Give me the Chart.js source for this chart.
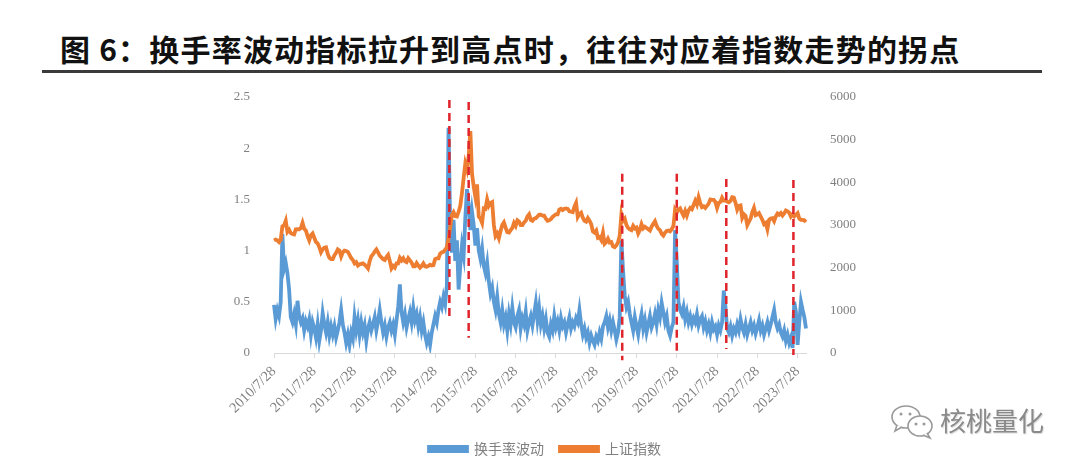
<!DOCTYPE html>
<html>
<head>
<meta charset="utf-8">
<script src="https://cdn.jsdelivr.net/npm/chart.js@4.4.0/dist/chart.umd.min.js"></script>
<style>
  body { margin: 0; background: #fff; width: 1080px; height: 468px; overflow: hidden; position: relative; font-family: "Noto Sans CJK SC", sans-serif; }
  #title { position: absolute; left: 60px; top: 32px; font-size: 30px; line-height: 32px; font-weight: bold; color: #111; white-space: nowrap; letter-spacing: 1.2px; }
  #rule { position: absolute; left: 42px; top: 70px; width: 1000px; height: 3px; background: #3a3a3a; }
  #box { position: absolute; left: 0; top: 80px; }
  #wx { position: absolute; left: 890px; top: 404px; }
  #wxtext { position: absolute; left: 940px; top: 404px; font-size: 26px; line-height: 32px; color: #8a8a8a; text-shadow: 1px 1px 1px #ddd; }
</style>
</head>
<body>
<div id="title">图 6：换手率波动指标拉升到高点时，往往对应着指数走势的拐点</div>
<div id="rule"></div>
<div id="box"><canvas id="chart" width="1080" height="388"></canvas></div>
<svg id="wx" width="46" height="36" viewBox="0 0 46 36">
  <ellipse cx="16" cy="13" rx="14" ry="11" fill="#fff" stroke="#9a9a9a" stroke-width="1.6"/>
  <path d="M7 21 L5 27 L12 23" fill="#fff" stroke="#9a9a9a" stroke-width="1.6"/>
  <circle cx="11" cy="10" r="1.5" fill="#9a9a9a"/>
  <circle cx="20" cy="10" r="1.5" fill="#9a9a9a"/>
  <ellipse cx="30" cy="22" rx="12" ry="10" fill="#fff" stroke="#9a9a9a" stroke-width="1.6"/>
  <path d="M37 29 L40 34 L33 31" fill="#fff" stroke="#9a9a9a" stroke-width="1.6"/>
  <circle cx="26" cy="20" r="1.5" fill="#9a9a9a"/>
  <circle cx="34" cy="20" r="1.5" fill="#9a9a9a"/>
</svg>
<div id="wxtext">核桃量化</div>
<script>
// 刻度标签（每 24 个半月点一个）
var yearLabels = ['2010/7/28', '2011/7/28', '2012/7/28', '2013/7/28', '2014/7/28', '2015/7/28', '2016/7/28',
  '2017/7/28', '2018/7/28', '2019/7/28', '2020/7/28', '2021/7/28', '2022/7/28', '2023/7/28'];

// 换手率波动（左轴），半月一个点
var turnover = [
  0.47, 0.33, 0.42, 0.36, 0.50, 1.16, 0.82, 0.88, 0.78, 0.62, 0.35,
  0.30, 0.38, 0.28, 0.51, 0.36, 0.30, 0.34, 0.22, 0.31, 0.26, 0.33, 0.18, 0.30, 0.24, 0.15, 0.28, 0.12, 0.22, 0.39, 0.28, 0.20, 0.30, 0.17, 0.26,
  0.18, 0.26, 0.15, 0.22, 0.30, 0.42, 0.28, 0.20, 0.10, 0.18, 0.08, 0.20, 0.14, 0.35, 0.22, 0.32, 0.18, 0.30, 0.20, 0.27, 0.12, 0.24, 0.30, 0.22,
  0.28, 0.35, 0.22, 0.31, 0.42, 0.30, 0.20, 0.27, 0.16, 0.25, 0.30, 0.22, 0.28, 0.18, 0.32, 0.45, 0.67, 0.40, 0.30, 0.38, 0.25, 0.33, 0.40, 0.30,
  0.44, 0.32, 0.38, 0.26, 0.35, 0.22, 0.30, 0.18, 0.10, 0.16, 0.08, 0.20, 0.28, 0.36, 0.30, 0.42, 0.50, 0.45, 0.55, 0.48, 0.66, 2.20, 1.25, 0.98,
  1.30, 0.90, 1.10, 0.62, 0.85, 1.05, 0.95, 1.32, 1.60, 1.45, 1.20, 1.38, 1.25, 1.05, 1.22, 1.00, 0.92, 1.02, 0.85, 0.78, 0.88, 0.70, 0.58, 0.64,
  0.50, 0.42, 0.55, 0.38, 0.30, 0.42, 0.28, 0.35, 0.22, 0.38, 0.28, 0.44, 0.30, 0.25, 0.36, 0.42, 0.24, 0.34, 0.28, 0.40, 0.22, 0.30, 0.36, 0.27,
  0.38, 0.49, 0.32, 0.44, 0.28, 0.36, 0.24, 0.33, 0.20, 0.16, 0.28, 0.22, 0.36, 0.25, 0.31, 0.22, 0.34, 0.26, 0.30, 0.20, 0.28, 0.35, 0.24, 0.30,
  0.26, 0.34, 0.30, 0.42, 0.28, 0.18, 0.24, 0.15, 0.20, 0.10, 0.17, 0.12, 0.08, 0.16, 0.12, 0.20, 0.14, 0.26, 0.30, 0.36, 0.25, 0.32, 0.22, 0.30,
  0.22, 0.13, 0.20, 0.35, 1.10, 0.80, 0.56, 0.45, 0.50, 0.38, 0.30, 0.22, 0.35, 0.26, 0.18, 0.30, 0.38, 0.24, 0.32, 0.20, 0.28, 0.36, 0.25, 0.30,
  0.38, 0.28, 0.42, 0.35, 0.49, 0.40, 0.30, 0.36, 0.22, 0.17, 0.25, 0.30, 1.20, 0.90, 0.50, 0.42, 0.38, 0.45, 0.33, 0.40, 0.30, 0.36, 0.28, 0.34,
  0.30, 0.38, 0.27, 0.33, 0.36, 0.25, 0.31, 0.22, 0.28, 0.20, 0.30, 0.23, 0.26, 0.18, 0.27, 0.22, 0.30, 0.61, 0.45, 0.24, 0.20, 0.26, 0.17, 0.24,
  0.20, 0.28, 0.22, 0.33, 0.25, 0.20, 0.28, 0.18, 0.24, 0.30, 0.22, 0.27, 0.19, 0.25, 0.32, 0.22, 0.27, 0.18, 0.24, 0.30, 0.22, 0.28, 0.35, 0.42,
  0.30, 0.24, 0.28, 0.20, 0.16, 0.22, 0.12, 0.18, 0.10, 0.15, 0.05, 0.50, 0.40, 0.08, 0.30, 0.50, 0.42, 0.35, 0.24
];

// 上证指数（右轴）
var shIndex = [
  2640, 2660, 2640, 2600, 2655, 2970, 2990, 3100, 2840, 2890, 2810,
  2790, 2780, 2900, 2905, 2900, 2930, 3050, 2910, 2870, 2740, 2640, 2760, 2800, 2700, 2600, 2570, 2480, 2360, 2430, 2470, 2480, 2330, 2230, 2200,
  2200, 2290, 2350, 2430, 2400, 2260, 2360, 2400, 2390, 2370, 2300, 2225, 2180, 2100, 2130, 2050, 2080, 2090, 2100, 2070, 2030, 1980, 2150, 2270,
  2310, 2380, 2430, 2360, 2280, 2240, 2200, 2180, 2250, 2300, 2160, 1980, 2040, 2000, 2100, 2100, 2230, 2170, 2220, 2150, 2130, 2220, 2170, 2115,
  2030, 2030, 2110, 2050, 2000, 2040, 2100, 2030, 2020, 2040, 2070, 2050, 2060, 2200, 2220, 2220, 2330, 2360, 2370, 2420, 2480, 2680, 2950, 3230,
  3300, 3210, 3200, 3310, 3450, 3750, 4100, 4440, 4300, 4610, 5200, 4200, 3900, 3660, 3950, 3200, 3150, 3050, 3390, 3380, 3600, 3450, 3520, 3540,
  3000, 2740, 2800, 2690, 2860, 3000, 3060, 2940, 2830, 2820, 2880, 2930, 3050, 2980, 3110, 3080, 3000, 3000, 3060, 3100, 3200, 3250, 3120, 3100,
  3150, 3160, 3200, 3240, 3240, 3220, 3220, 3150, 3100, 3110, 3140, 3190, 3220, 3250, 3250, 3360, 3380, 3350, 3380, 3390, 3380, 3320, 3310, 3300,
  3430, 3520, 3190, 3260, 3290, 3170, 3100, 3080, 3160, 3100, 3020, 2850, 2820, 2870, 2700, 2720, 2650, 2820, 2560, 2600, 2680, 2590, 2600, 2500,
  2480, 2520, 2600, 2750, 3250, 3100, 3150, 3000, 2930, 2900, 2880, 2980, 2920, 2940, 2800, 2880, 3020, 2920, 2960, 2930, 2900, 2870, 2960, 3030,
  3090, 2980, 2910, 2880, 2790, 2750, 2820, 2860, 2870, 2850, 2900, 2980, 3360, 3290, 3360, 3390, 3300, 3220, 3330, 3220, 3340, 3400, 3370, 3470,
  3570, 3480, 3650, 3510, 3420, 3440, 3400, 3450, 3500, 3600, 3590, 3590, 3540, 3400, 3520, 3540, 3640, 3570, 3570, 3550, 3530, 3560, 3650, 3640,
  3520, 3360, 3450, 3460, 3170, 3250, 3210, 3000, 3080, 3150, 3300, 3400, 3230, 3250, 3280, 3200, 3120, 3020, 3050, 2900, 3120, 3150, 3160, 3090,
  3200, 3270, 3240, 3280, 3220, 3270, 3340, 3320, 3290, 3200, 3250, 3200, 3240, 3280, 3150, 3120, 3120, 3110, 3070
];

// 红色虚线：位置（点序号）和上下端（左轴数值）
var markAt = [104.5, 116, 207.5, 240, 269.5, 309.5];
var markTop = [2.47, 2.45, 1.75, 1.75, 1.70, 1.69];
var markBottom = [0.34, 0.15, -0.07, 0, 0.04, -0.02];

var categories = turnover.map(function (v, i) { return i; });

// 画红色竖虚线
var markLines = {
  id: 'markLines',
  afterDatasetsDraw: function (chart) {
    var ctx = chart.ctx;
    var xs = chart.scales.x;
    var ys = chart.scales.y;
    ctx.save();
    ctx.strokeStyle = '#e0242b';
    ctx.lineWidth = 2.5;
    ctx.setLineDash([8, 5]);
    for (var i = 0; i < markAt.length; i++) {
      var x = xs.getPixelForValue(markAt[i]);
      ctx.beginPath();
      ctx.moveTo(x, ys.getPixelForValue(markTop[i]));
      ctx.lineTo(x, ys.getPixelForValue(markBottom[i]));
      ctx.stroke();
    }
    ctx.restore();
  }
};

var tickFont = { family: 'Liberation Serif', size: 13 };

// 固定轴宽，去掉刻度字撑出的上下留白
function fixY(width) {
  return function (s) {
    s.width = width;
    s.paddingTop = 0;
    s.paddingBottom = 0;
  };
}

new Chart(document.getElementById('chart').getContext('2d'), {
  type: 'line',
  data: {
    labels: categories,
    datasets: [{
      label: '换手率波动',
      data: turnover,
      yAxisID: 'y',
      borderColor: '#5b9bd5',
      backgroundColor: '#5b9bd5',
      borderWidth: 3.8,
      pointRadius: 0,
      tension: 0,
      order: 1
    }, {
      label: '上证指数',
      data: shIndex,
      yAxisID: 'y2',
      borderColor: '#ed7d31',
      backgroundColor: '#ed7d31',
      borderWidth: 3.8,
      pointRadius: 0,
      tension: 0,
      order: 0
    }]
  },
  options: {
    responsive: false,
    animation: false,
    layout: { padding: { left: 224, right: 214, top: 17, bottom: 2 } },
    plugins: {
      tooltip: { enabled: false },
      legend: {
        position: 'bottom',
        labels: {
          boxWidth: 38,
          boxHeight: 4,
          padding: 16,
          color: '#808080',
          font: { family: 'Noto Sans CJK SC', size: 14 },
          sort: function (a, b) { return a.datasetIndex - b.datasetIndex; }
        }
      }
    },
    scales: {
      x: {
        type: 'category',
        afterFit: function (s) { s.height = 73; },
        border: { display: true, color: '#d9d9d9', width: 1 },
        grid: {
          drawOnChartArea: false,
          tickLength: 5,
          color: function (c) { return c.index % 24 === 0 ? '#d9d9d9' : 'rgba(0,0,0,0)'; }
        },
        ticks: {
          autoSkip: false,
          maxRotation: 45,
          minRotation: 45,
          padding: 5,
          color: '#808080',
          font: { family: 'Liberation Serif', size: 14.5 },
          callback: function (v, i) { return i % 24 === 0 ? yearLabels[i / 24] : ''; }
        }
      },
      y: {
        position: 'left',
        min: 0,
        max: 2.5,
        afterFit: fixY(50),
        border: { display: false },
        grid: { display: false },
        ticks: {
          stepSize: 0.5,
          padding: 16,
          color: '#808080',
          font: tickFont,
          callback: function (v) { return String(v); }
        }
      },
      y2: {
        position: 'right',
        min: 0,
        max: 6000,
        afterFit: fixY(60),
        border: { display: false },
        grid: { display: false },
        ticks: {
          stepSize: 1000,
          padding: 16,
          color: '#808080',
          font: tickFont,
          callback: function (v) { return String(v); }
        }
      }
    }
  },
  plugins: [markLines]
});
</script>
</body>
</html>
